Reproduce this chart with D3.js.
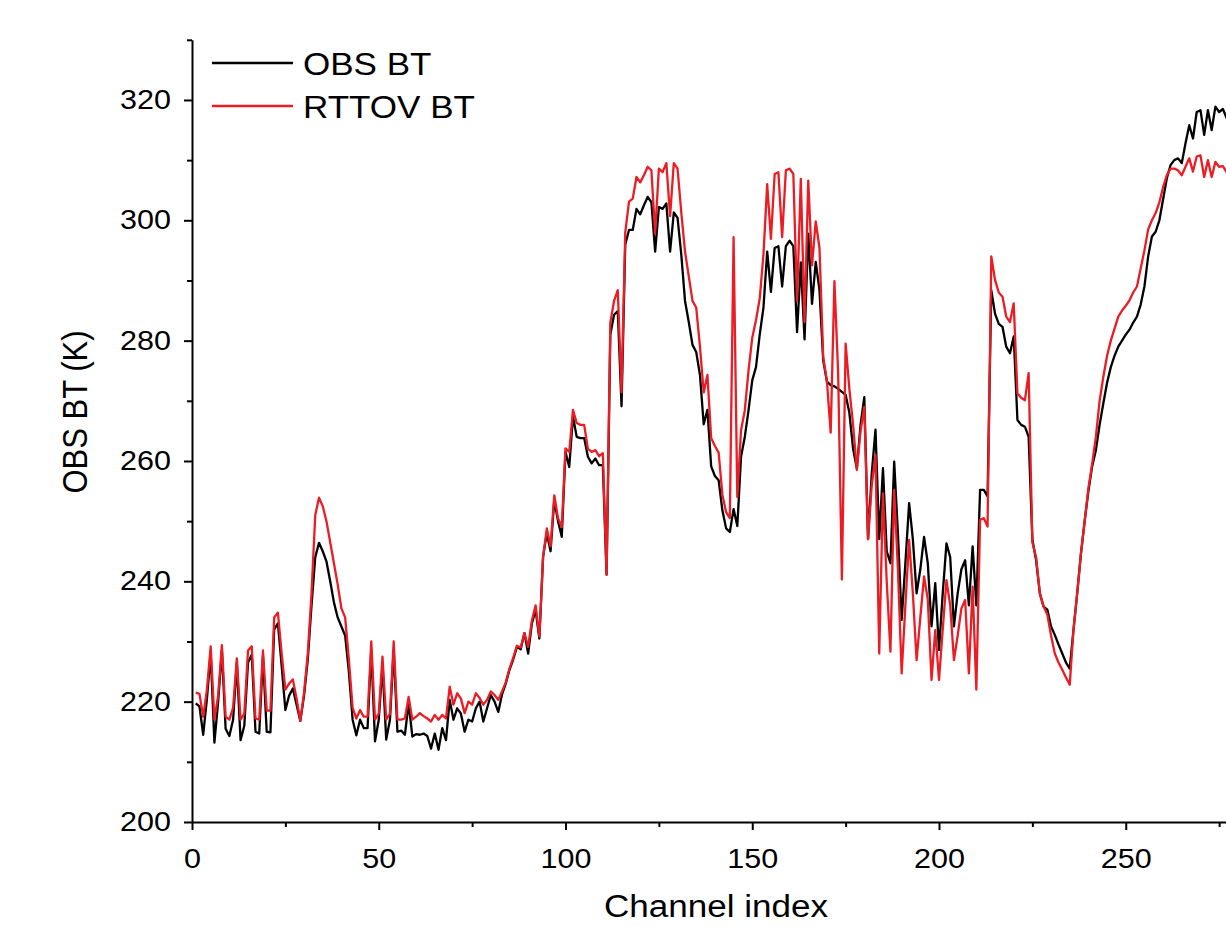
<!DOCTYPE html>
<html>
<head>
<meta charset="utf-8">
<script src="https://cdn.jsdelivr.net/npm/d3@7"></script>
<style>
  body { margin: 0; background: #fff; overflow: hidden; }
</style>
</head>
<body>
<div class="chart"></div>
<script>
// brightness temperature per channel, starting at channel 1
const obsBT = [
  219.7, 219.2, 214.5, 220.5, 228, 213.2, 220, 228.5, 215.5, 214.3,
  217, 226.4, 213.6, 216, 226.5, 227.8, 215, 214.7, 227.5, 215,
  214.9, 232, 233, 226, 218.6, 221, 222.2, 219.5, 216.8, 221,
  227, 236, 244, 246.4, 245, 243.3, 240, 236.5, 234, 232.5,
  231, 225, 217, 214.4, 217, 215.6, 215.6, 228.6, 213.4, 217,
  226, 213.7, 217, 228.6, 215, 215.2, 214.5, 219.7, 214.2, 214.6,
  214.5, 214.7, 214.3, 212.2, 214.7, 212, 215.6, 213.6, 220.3, 217,
  218.9, 218, 215, 217, 216.7, 218.9, 220, 216.7, 218.9, 221.1,
  220, 218.3, 221.2, 223, 225.3, 227, 229.1, 228.7, 231.4, 228,
  233, 235.2, 230.5, 244.1, 248, 245, 253.5, 250, 247.4, 261.5,
  259, 267.4, 264, 263.8, 263.8, 260.7, 259.6, 260.4, 259.3, 259.3,
  241.1, 281, 284.3, 284.9, 269.1, 296, 298.4, 298.4, 301.9, 301,
  302.5, 303.9, 303, 294.8, 302.2, 301.9, 302.8, 294.8, 301.3, 300.4,
  294.3, 286.6, 283.1, 279.3, 278.1, 274.3, 266.1, 268.5, 259.1, 257.5,
  256.8, 251.8, 248.8, 248.2, 252, 249.2, 260.7, 264, 268.4, 273.4,
  275.6, 281, 285.5, 294.8, 288.1, 295.4, 295.7, 289, 295.7, 296.6,
  295.7, 281.4, 293, 280.2, 297.8, 286.1, 293.1, 288.4, 276.7, 273.2,
  272.6, 272.4, 272, 271.5, 271, 268, 262, 258.8, 266, 270.6,
  247, 258, 265.2, 247, 258.8, 245, 243, 259.9, 248, 233.6,
  243, 253, 247, 238, 242, 247.4, 243, 232.5, 239.7, 228.6,
  238, 246.3, 244, 232.5, 238, 242, 243.5, 236, 245.8, 236,
  255.2, 255.2, 254.1, 288.4, 284.5, 282.8, 282.3, 279, 277.9, 280.7,
  266.8, 266, 265.7, 264, 246.9, 243.5, 238, 235.8, 235.3, 232.5,
  231.1, 229.5, 228, 226.5, 225.5, 231.9, 238, 244.6, 250, 255,
  259.1, 261.8, 266, 269.6, 273, 275.6, 277.5, 279, 280, 281,
  281.8, 283, 284, 286, 289, 294, 297.3, 298.1, 300, 303.5,
  307, 309.2, 310, 310.3, 309.5, 312.8, 315.8, 313.6, 318, 318.3,
  314.2, 318.3, 315, 318.9, 318, 318.5, 317, 318.5, 318, 319
];

const rttovBT = [
  221.5, 221.3, 217.5, 222, 229.2, 217, 221, 229.4, 217.5, 217,
  219, 227.2, 217, 218, 228.5, 229.2, 217.2, 217, 228.5, 218.5,
  218.5, 234, 234.8, 228, 222, 223, 223.7, 220.5, 216.8, 221.5,
  228, 238, 251, 253.9, 252.5, 250, 246.5, 243, 239.5, 235.5,
  234, 227, 219, 217.2, 218.6, 217.5, 217.5, 230, 217, 218,
  227.5, 217, 218, 230, 217, 217, 217.2, 220.8, 217, 217.5,
  218.1, 217.6, 217.2, 216.7, 217.8, 217, 217.8, 217.2, 222.5, 219.5,
  221.4, 220.5, 218.1, 220, 219.5, 221.4, 220.6, 219.5, 220.3, 221.7,
  221.1, 220.3, 221.7, 223.2, 225.5, 227.3, 229.3, 229, 231.4, 229.1,
  233.5, 236, 230.8, 244.1, 248.8, 245.8, 254.3, 250.5, 249, 262.1,
  261.5, 268.5, 266.3, 266, 266, 262, 261.5, 261.8, 260.8, 261.3,
  241.1, 283, 286.6, 288.4, 271.4, 298, 303.1, 303.6, 307.2, 306.3,
  307.5, 308.9, 308.3, 297.8, 308.6, 308, 309.5, 300.7, 309.5, 308.6,
  301.3, 294.8, 290.7, 286.6, 285.5, 279, 271.4, 274.3, 263.8, 262.5,
  261.4, 254.4, 251.5, 250.5, 297.2, 254, 265.1, 268.4, 275, 280.5,
  283.4, 287, 294.3, 306, 296.9, 307.7, 308, 297.2, 308.3, 308.6,
  307.7, 286.6, 306.9, 283.1, 306.6, 292.5, 299.8, 295.4, 277.3, 273.2,
  264.7, 289.9, 274.6, 240.3, 279.5, 272, 266, 258.5, 265, 269,
  247, 256, 261, 228, 254.6, 240, 228.3, 255.2, 242, 224.7,
  236, 246.9, 238, 226.9, 234, 240.8, 237, 223.6, 231.9, 223.6,
  232, 240.2, 236, 226.9, 231, 235.5, 236.9, 224.7, 239.1, 222,
  250.2, 250.5, 249.1, 294, 290.1, 288, 287.3, 284, 283.1, 286.2,
  271.2, 270.5, 270.1, 274.6, 246.5, 244, 238, 235.8, 234.5, 231,
  228, 226.5, 225.3, 224, 222.8, 231.9, 238, 244.6, 250, 255.5,
  259.5, 264, 270, 274, 277.5, 280, 282, 284, 285, 285.8,
  286.7, 288, 289, 292, 295, 298.5, 300, 301.2, 303, 305.5,
  307.5, 308.6, 308.6, 308.3, 307.5, 308.9, 310.3, 308.1, 310.6, 310.8,
  307.2, 310, 307.2, 309.7, 308.9, 309, 308, 309.5, 309, 310
];

const firstChannel = 1;
const seriesNames = ["OBS BT", "RTTOV BT"];
const xMajorTicks = [0, 50, 100, 150, 200, 250];
const xMinorTicks = [25, 75, 125, 175, 225, 275];
const yMajorTicks = [200, 220, 240, 260, 280, 300, 320];
const yMinorTicks = [210, 230, 250, 270, 290, 310, 330];

const svgWidth = 1226,
  svgHeight = 926,
  obsColor = "#000000",
  rttovColor = "#ec1c24",
  fontFamily = "'Liberation Sans', Arial, sans-serif",
  widen = 1.13; // the original picture is a little stretched sideways

const svg = d3
  .select(".chart")
  .append("svg")
  .attr("width", svgWidth)
  .attr("height", svgHeight)
  .style("display", "block");

const xScale = d3.scaleLinear().domain([0, 300]).range([192, 1312.5]);
const yScale = d3.scaleLinear().domain([200, 330]).range([822, 39.8]);

function stretchText(selection) {
  selection.each(function () {
    const w = this.getComputedTextLength();
    d3.select(this)
      .attr("textLength", w * widen)
      .attr("lengthAdjust", "spacingAndGlyphs");
  });
}

// minor ticks first, then the main axes on top
svg
  .append("g")
  .attr("transform", "translate(0, 822)")
  .call(d3.axisBottom(xScale).tickValues(xMinorTicks).tickSize(5).tickFormat(""))
  .call((g) => g.select(".domain").remove())
  .selectAll("line")
  .attr("stroke-width", 2);

svg
  .append("g")
  .attr("transform", "translate(192, 0)")
  .call(d3.axisLeft(yScale).tickValues(yMinorTicks).tickSize(5).tickFormat(""))
  .call((g) => g.select(".domain").remove())
  .selectAll("line")
  .attr("stroke-width", 2);

const xAxis = svg
  .append("g")
  .attr("transform", "translate(0, 822)")
  .call(
    d3.axisBottom(xScale).tickValues(xMajorTicks).tickSize(8).tickSizeOuter(0).tickPadding(19)
  );

const yAxis = svg
  .append("g")
  .attr("transform", "translate(192, 0)")
  .call(
    d3.axisLeft(yScale).tickValues(yMajorTicks).tickSize(8).tickSizeOuter(0).tickPadding(13)
  );

[xAxis, yAxis].forEach((axis) => {
  axis.select(".domain").attr("stroke-width", 2);
  axis.selectAll(".tick line").attr("stroke-width", 2);
  axis
    .selectAll("text")
    .style("font-family", fontFamily)
    .style("font-size", "27px")
    .attr("fill", "#000")
    .call(stretchText);
});

const line = d3
  .line()
  .x((d, i) => xScale(firstChannel + i))
  .y((d) => yScale(d));

svg
  .append("path")
  .attr("d", line(obsBT))
  .attr("fill", "none")
  .attr("stroke", obsColor)
  .attr("stroke-width", 2.3)
  .attr("stroke-linejoin", "round");

svg
  .append("path")
  .attr("d", line(rttovBT))
  .attr("fill", "none")
  .attr("stroke", rttovColor)
  .attr("stroke-width", 2.3)
  .attr("stroke-linejoin", "round");

// axis titles
svg
  .append("text")
  .text("Channel index")
  .attr("x", 716)
  .attr("y", 917)
  .attr("text-anchor", "middle")
  .style("font-family", fontFamily)
  .style("font-size", "31px")
  .call(stretchText);

svg
  .append("text")
  .text("OBS BT (K)")
  .attr("transform", `translate(87, 412) rotate(-90) scale(1, ${widen})`)
  .attr("text-anchor", "middle")
  .style("font-family", fontFamily)
  .style("font-size", "31px");

// legend
const legend = svg
  .selectAll(".legend")
  .data(seriesNames)
  .enter()
  .append("g")
  .attr("transform", (d, i) => `translate(212, ${63 + i * 43})`);

legend
  .append("line")
  .attr("x1", 0)
  .attr("x2", 81)
  .attr("stroke", (d, i) => (i === 0 ? obsColor : rttovColor))
  .attr("stroke-width", 2.3);

legend
  .append("text")
  .text((d) => d)
  .attr("x", 91)
  .attr("y", 12)
  .style("font-family", fontFamily)
  .style("font-size", "31px")
  .call(stretchText);
</script>
</body>
</html>
